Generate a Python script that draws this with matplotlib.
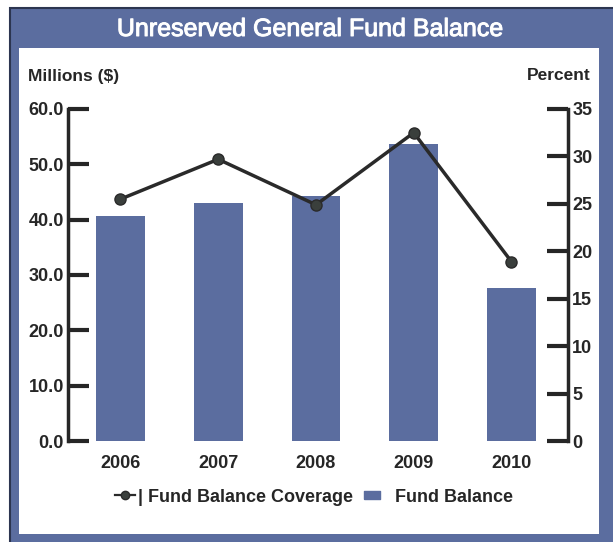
import matplotlib.pyplot as plt
import matplotlib.patheffects as pe
from matplotlib.patches import Rectangle
from matplotlib.lines import Line2D

# fund balance data
years = ['2006', '2007', '2008', '2009', '2010']
balance = [40.6, 43.0, 44.3, 53.7, 27.6]      # millions of dollars
coverage = [25.5, 29.7, 24.9, 32.5, 18.9]     # percent

left_ticks = [0, 10, 20, 30, 40, 50, 60]
right_ticks = [0, 5, 10, 15, 20, 25, 30, 35]

blue = '#5b6d9f'
dark = '#262626'

plt.rcParams['font.family'] = ['Liberation Sans', 'DejaVu Sans']

W, H = 613, 542
fig = plt.figure(figsize=(W / 100, H / 100), dpi=100)

# px helper -> figure fraction
def box(x0, y0, x1, y1):
    return (x0 / W, 1 - y1 / H), (x1 - x0) / W, (y1 - y0) / H

#blue frame + white panel
xy, w, h = box(10, 8, 640, 570)
fig.patches.append(Rectangle(xy, w, h, transform=fig.transFigure,
                             facecolor=blue, edgecolor='#2c3550', linewidth=1.5, zorder=-3))
xy, w, h = box(19, 48, 599, 534)
fig.patches.append(Rectangle(xy, w, h, transform=fig.transFigure,
                             facecolor='white', edgecolor='none', zorder=-2))

thick_white = [pe.withStroke(linewidth=0.7, foreground='white')]

fig.text(310 / W, 1 - 29 / H, 'Unreserved General Fund Balance', color='white',
         fontsize=18, ha='center', va='center', path_effects=thick_white)
fig.text(28 / W, 1 - 76 / H, 'Millions ($)', color=dark, fontsize=12.5,
         fontweight='bold', ha='left', va='center')
fig.text(591 / W, 1 - 76 / H, 'Percent', color=dark, fontsize=12.5,
         fontweight='bold', ha='right', va='center')

ax = fig.add_axes([68 / W, 1 - 441 / H, 500 / W, 332 / H])
ax.patch.set_alpha(0)
x = range(len(years))
ax.bar(x, balance, width=0.5, color=blue, zorder=2)
ax.set_xlim(-0.537, 4.578)
ax.set_ylim(0, 60)
ax.set_yticks(left_ticks)
ax.set_yticklabels(['%.1f' % v for v in left_ticks])
ax.set_xticks(list(x))
ax.set_xticklabels(years)
for s in ['top', 'right', 'bottom']:
    ax.spines[s].set_visible(False)
ax.spines['left'].set_linewidth(2.5)
ax.spines['left'].set_color(dark)
ax.tick_params(axis='y', direction='in', length=15, width=3, color=dark,
               labelsize=13, labelcolor=dark, pad=3)
ax.tick_params(axis='x', length=0, labelsize=13, labelcolor=dark, pad=10)
for lbl in ax.get_yticklabels() + ax.get_xticklabels():
    lbl.set_fontweight('bold')

ax2 = ax.twinx()
ax2.plot(x, coverage, color='#2a2a2a', linewidth=2.5, marker='o', markersize=8,
         markerfacecolor='#3a3f3c', markeredgecolor='#2a2a2a', zorder=3)
ax2.set_ylim(0, 35)
ax2.set_yticks(right_ticks)
for s in ['top', 'left', 'bottom']:
    ax2.spines[s].set_visible(False)
ax2.spines['right'].set_linewidth(2.5)
ax2.spines['right'].set_color(dark)
ax2.tick_params(axis='y', direction='in', length=15, width=3, color=dark,
                labelsize=13, labelcolor=dark, pad=3)
for lbl in ax2.get_yticklabels():
    lbl.set_fontweight('bold')

# legend: small line+dot handle, flat rectangle for the bars
rect = [(-1, -0.5), (1, -0.5), (1, 0.5), (-1, 0.5), (-1, -0.5)]
handles = [Line2D([], [], color='#2a2a2a', linewidth=1.6, marker='o', markersize=6,
                  markerfacecolor='#3a3f3c'),
           Line2D([], [], linestyle='none', marker=rect, markersize=12,
                  markerfacecolor=blue, markeredgecolor=blue)]
leg = fig.legend(handles, ['| Fund Balance Coverage', '  Fund Balance'], loc='center',
                 bbox_to_anchor=(314 / W, 1 - 497 / H), ncol=2, frameon=False,
                 prop={'size': 13, 'weight': 'bold'}, handlelength=1.1,
                 handletextpad=0.15, columnspacing=0.5)
for t in leg.get_texts():
    t.set_color(dark)

fig.savefig('out.png', dpi=100)
